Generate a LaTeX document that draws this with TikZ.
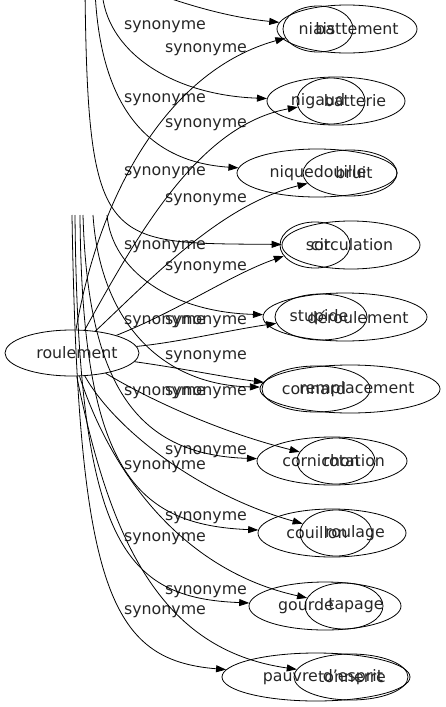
\documentclass[tikz,border=0pt]{standalone}
\usepackage{fontspec}
\setmainfont{DejaVu Sans}
\usetikzlibrary{shapes.geometric,arrows.meta}
\begin{document}
\begin{tikzpicture}[x=1pt,y=-1pt,line width=0.8pt,
  bnode/.style={draw,ellipse,inner sep=0pt,minimum height=48pt,minimum width=#1pt},
  anode/.style={draw,ellipse,inner sep=0pt,minimum height=46pt,minimum width=#1pt},
  word/.style={text=black!85,inner sep=0pt,font=\fontsize{15.8}{19}\selectfont},
  edge/.style={-{Triangle[length=10pt,width=7pt]}}]
\useasboundingbox (0,0) rectangle (445,707);
\clip (0,0) rectangle (445,707);
\node[anode=134,label={[word,xshift=5pt]center:roulement}] (roulement) at (72,353) {};
\node[bnode=140,label={[word,xshift=-30pt]center:niais}] (niais) at (347,29) {};
\node[anode=70,label={[word,xshift=39pt]center:battement}] (battement) at (318,29) {};
\node[bnode=138,label={[word,xshift=-18pt]center:nigaud}] (nigaud) at (336,101) {};
\node[anode=68,label={[word,xshift=24pt]center:batterie}] (batterie) at (331,101) {};
\node[bnode=160,label={[word,xshift=1pt]center:niquedouille}] (niquedouille) at (317,173) {};
\node[anode=94,label={[word,xshift=4pt]center:bruit}] (bruit) at (350,173) {};
\node[bnode=138,label={[word,xshift=-33pt]center:sot}] (sot) at (351,245) {};
\node[anode=70,label={[word,xshift=37pt]center:circulation}] (circulation) at (315,245) {};
\node[bnode=164,label={[word,xshift=-26pt]center:stupide}] (stupide) at (345,317) {};
\node[anode=92,label={[word,xshift=37pt]center:déroulement}] (deroulement) at (321,317) {};
\node[bnode=180,label={[word,xshift=-36pt]center:connard}] (connard) at (350,389) {};
\node[anode=108,label={[word,xshift=41pt]center:remplacement}] (remplacement) at (316,389) {};
\node[bnode=150,label={[word,xshift=-11pt]center:cornichon}] (cornichon) at (332,461) {};
\node[anode=78,label={[word,xshift=18pt]center:rotation}] (rotation) at (336,461) {};
\node[bnode=148,label={[word,xshift=-15pt]center:couillon}] (couillon) at (332,533) {};
\node[anode=72,label={[word,xshift=19pt]center:roulage}] (roulage) at (336,533) {};
\node[bnode=152,label={[word,xshift=-19pt]center:gourde}] (gourde) at (325,606) {};
\node[anode=78,label={[word,xshift=12pt]center:tapage}] (tapage) at (344,606) {};
\node[bnode=188,label={[word,xshift=7pt]center:pauvre d'esprit}] (pauvre) at (316,677) {};
\node[anode=114,label={[word,xshift=1pt]center:tonnerre}] (tonnerre) at (351,677) {};
\foreach \y [count=\i] in {50,125,200,268,322,357,393,452,518,592}
  \node[word] (sa\i) at (206,\y) {synonyme};
\foreach \y [count=\i] in {27,100,173,247,322,393,467,539,612}
  \node[word] (sb\i) at (165,\y) {synonyme};
\coordinate (t1) at (120,-20);
\coordinate (t2) at (102,-10);
\coordinate (t3) at (95,-10);
\coordinate (t4) at (85,-10);
\coordinate (s5) at (107,215);
\coordinate (s6) at (93,215);
\coordinate (s7) at (83,215);
\coordinate (s8) at (80,215);
\coordinate (s9) at (75,215);
\coordinate (s10) at (72,215);
\draw[edge] (roulement) .. controls (100,190) and (170,70) .. (battement);
\draw[edge] (roulement) .. controls (140,230) and (200,125) .. (batterie);
\draw[edge] (roulement) .. controls (150,280) and (220,205) .. (bruit);
\draw[edge] (roulement) .. controls (180,310) and (230,275) .. (circulation);
\draw[edge] (roulement) .. controls (180,342) and (230,330) .. (deroulement);
\draw[edge] (roulement) .. controls (180,368) and (230,378) .. (remplacement);
\draw[edge] (roulement) .. controls (150,400) and (220,432) .. (rotation);
\draw[edge] (roulement) .. controls (115,430) and (200,495) .. (roulage);
\draw[edge] (roulement) .. controls (110,470) and (180,570) .. (tapage);
\draw[edge] (roulement) .. controls (110,540) and (160,650) .. (tonnerre);
\draw[edge] (t1) .. controls (175,2) and (225,17) .. (niais);
\draw[edge] (t2) .. controls (105,50) and (170,95) .. (nigaud);
\draw[edge] (t3) .. controls (100,110) and (150,162) .. (niquedouille);
\draw[edge] (t4) .. controls (88,250) and (105,243) .. (sot);
\draw[edge] (s5) .. controls (112,270) and (170,312) .. (stupide);
\draw[edge] (s6) .. controls (100,320) and (160,385) .. (connard);
\draw[edge] (s7) .. controls (88,390) and (140,455) .. (cornichon);
\draw[edge] (s8) .. controls (82,470) and (135,525) .. (couillon);
\draw[edge] (s9) .. controls (78,545) and (125,598) .. (gourde);
\draw[edge] (s10) .. controls (78,590) and (110,660) .. (pauvre);
\end{tikzpicture}
\end{document}
